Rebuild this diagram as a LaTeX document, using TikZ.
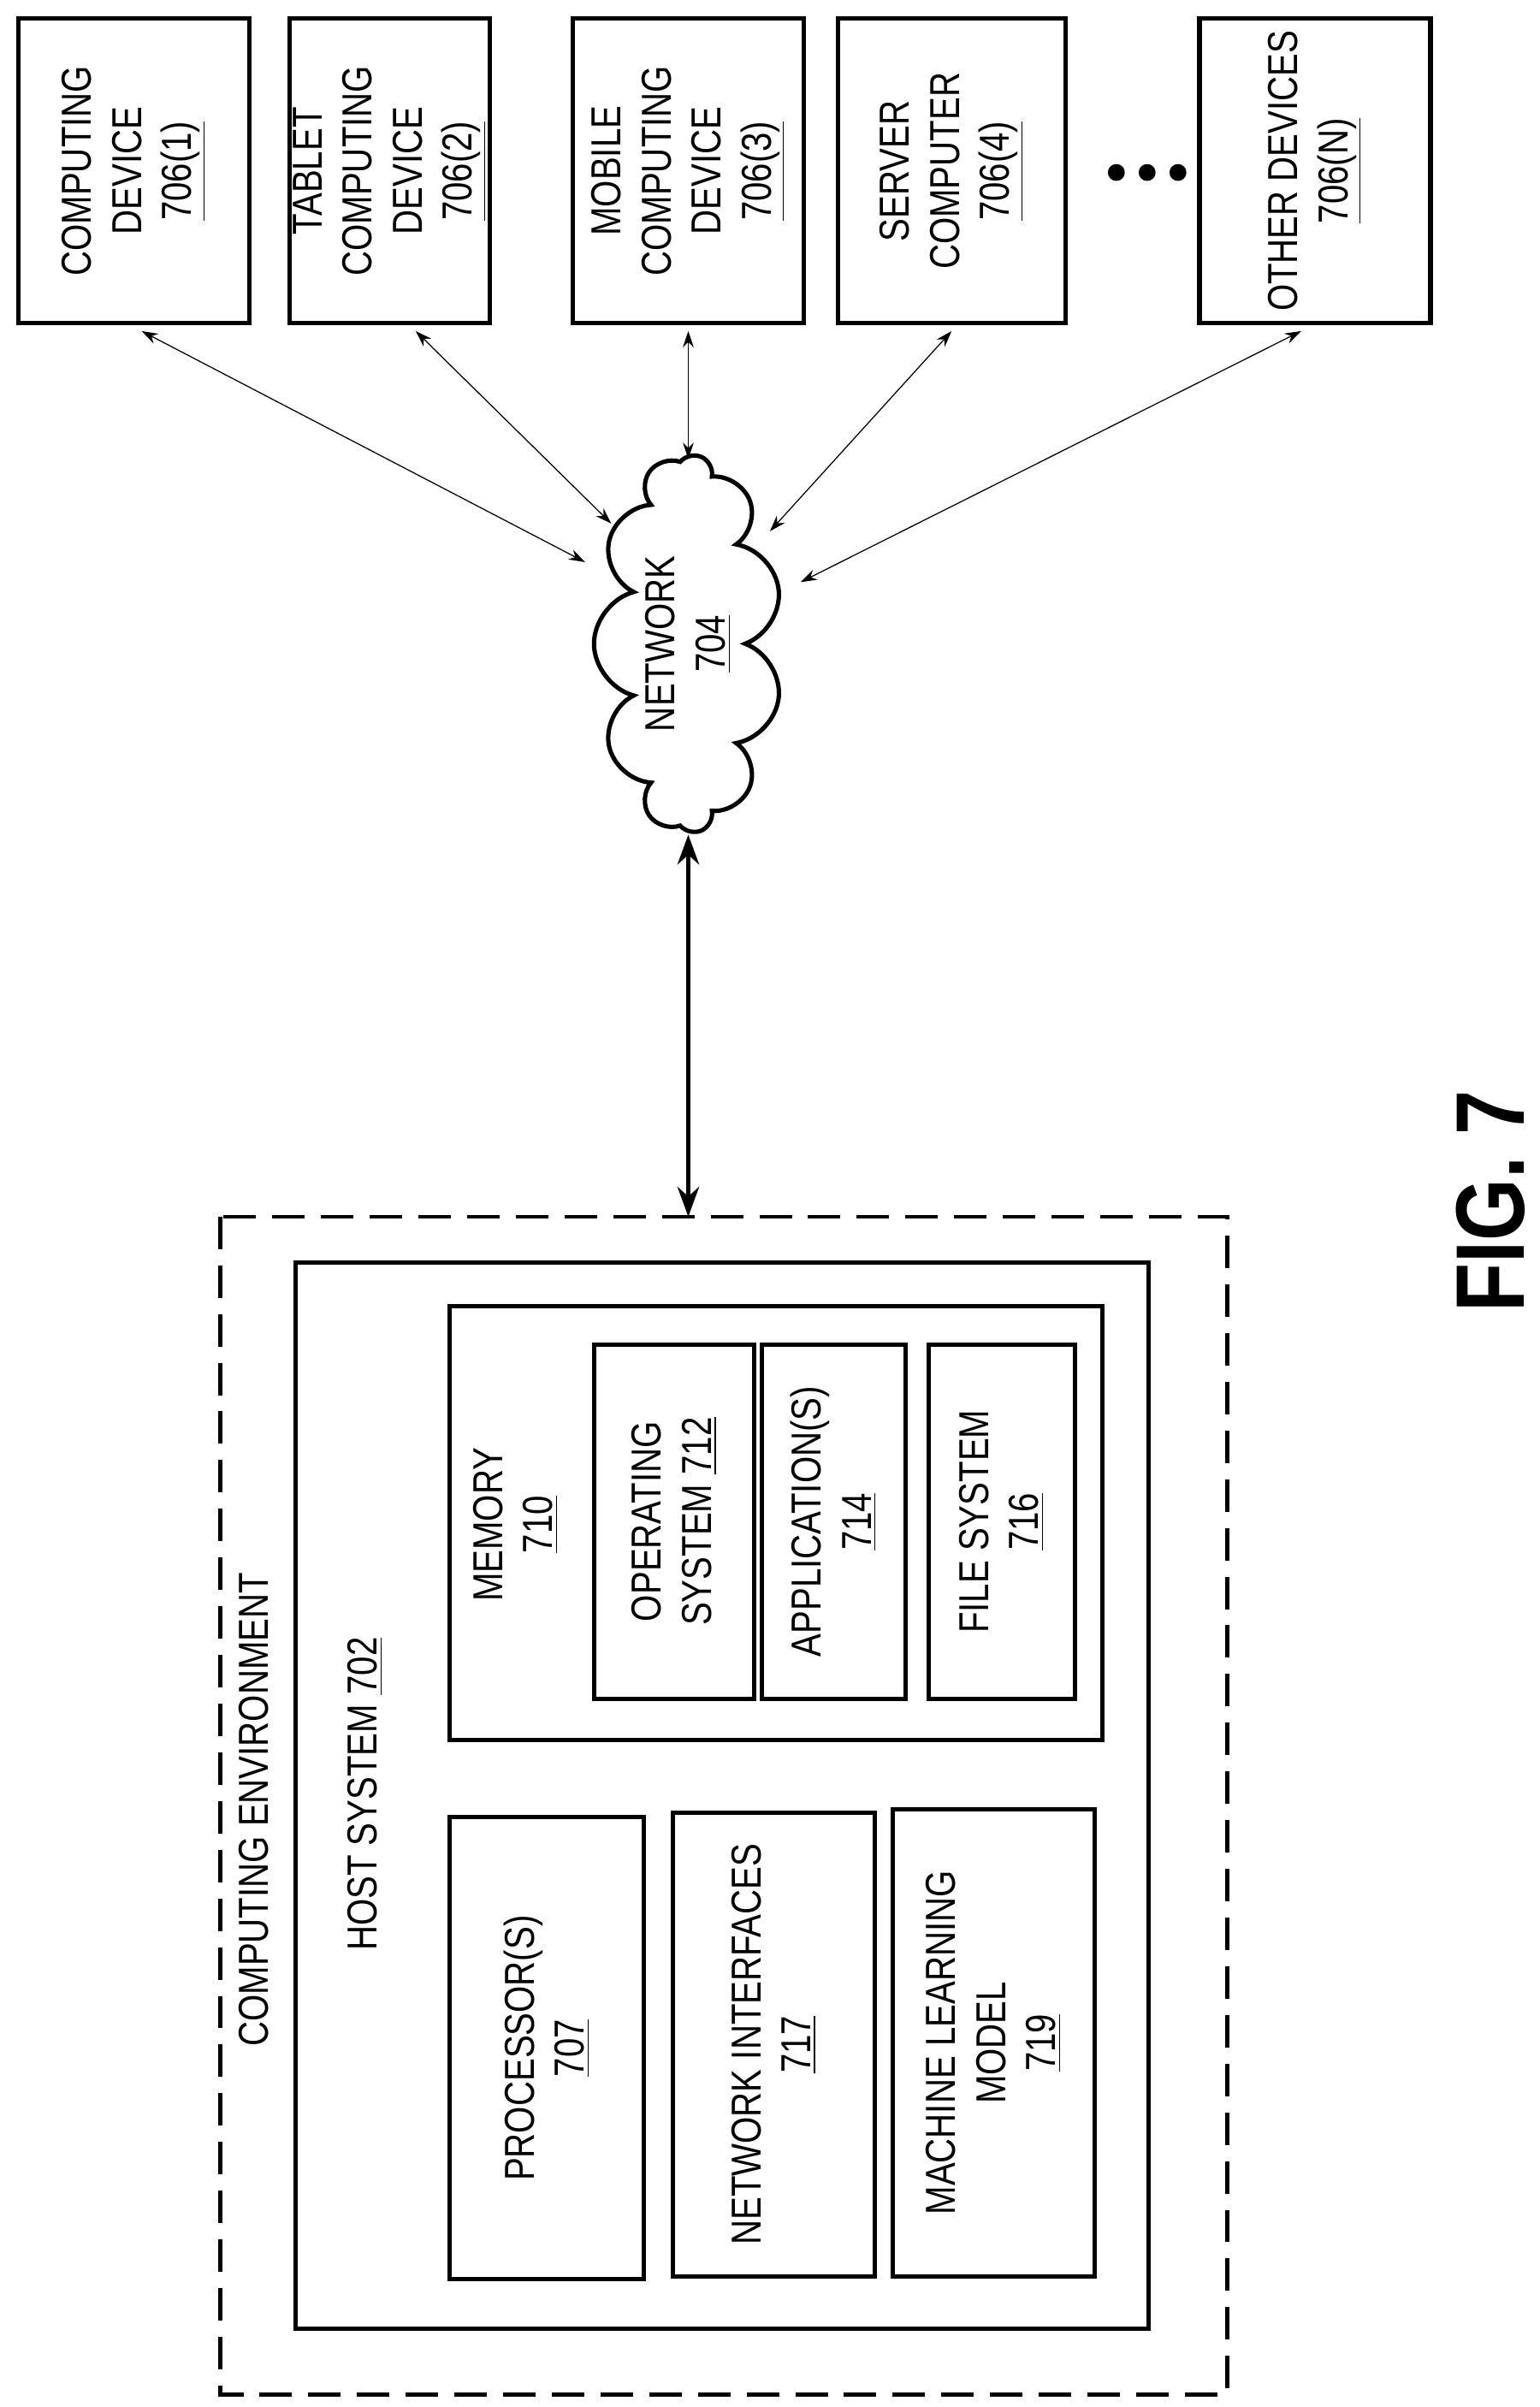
\documentclass[tikz,border=0pt]{standalone}
\usepackage{fontspec}
\setmainfont{Liberation Sans}[FakeStretch=0.82]
\usetikzlibrary{shapes.symbols,arrows.meta}
\begin{document}
\begin{tikzpicture}[x=0.02cm,y=-0.02cm,
 box/.style={draw,line width=1.6pt},
 lbl/.style={rotate=90,align=center,font=\fontsize{15.5}{18.5}\selectfont},
 thin/.style={line width=0.4pt,{Stealth[length=6pt,width=4pt]}-{Stealth[length=6pt,width=4pt]}},
 thick/.style={line width=1.6pt,{Stealth[length=11pt,width=8pt]}-{Stealth[length=11pt,width=8pt]}}]
\useasboundingbox (0,0) rectangle (1000,1563);
\def\bx#1#2#3#4#5#6{\draw[box] (#2,#3) rectangle (#4,#5); \node[lbl] (#1) at ({(#2+#4)/2},{(#3+#5)/2}) {#6};
 \coordinate (#1s) at ({(#2+#4)/2},#5);}
\bx{d1}{12}{12}{162}{210}{COMPUTING\\DEVICE\\\underline{706(1)}}
\bx{d2}{188}{12}{318}{210}{TABLET\\COMPUTING\\DEVICE\\\underline{706(2)}}
\bx{d3}{372}{12}{522}{210}{MOBILE\\COMPUTING\\DEVICE\\\underline{706(3)}}
\bx{d4}{544}{12}{692}{210}{SERVER\\COMPUTER\\\underline{706(4)}}
\bx{d5}{779}{12}{929}{210}{OTHER DEVICES\\\underline{706(N)}}
\foreach \x in {725,745,765} \fill (\x,112) circle (5.5);
\node[cloud,draw,line width=1.6pt,cloud puffs=11,aspect=2,minimum width=4.9cm,minimum height=2.45cm,rotate=90,inner sep=0] (net) at (447,418) {};
\node[lbl] at (447,418) {NETWORK\\\underline{704}};
\coordinate (c1) at (380,365); \coordinate (c2) at (397,340); \coordinate (c3) at (447,298);
\coordinate (c4) at (500,345); \coordinate (c5) at (520,378); \coordinate (c6) at (447,542);
\coordinate (e1) at (92,215); \coordinate (e2) at (270,215); \coordinate (e3) at (447,215);
\coordinate (e4) at (618,215); \coordinate (e5) at (845,215); \coordinate (e6) at (447,790);
\foreach \i in {1,...,5} \draw[thin] (e\i) -- (c\i);
\draw[thick] (c6) -- (e6);
\draw[line width=1.4pt,dash pattern=on 12pt off 6pt] (143,790) rectangle (797,1555);
\node[lbl] at (165,1175) {COMPUTING ENVIRONMENT};
\draw[box] (192,820) rectangle (746,1512);
\node[lbl] at (237,1165) {HOST SYSTEM \underline{702}};
\draw[box] (292,848) rectangle (716,1130);
\node[lbl] at (335,990) {MEMORY\\\underline{710}};
\bx{os}{386}{873}{490}{1103}{OPERATING\\SYSTEM \underline{712}}
\bx{ap}{495}{873}{588}{1103}{APPLICATION(S)\\\underline{714}}
\bx{fs}{603}{873}{698}{1103}{FILE SYSTEM\\\underline{716}}
\bx{pr}{292}{1180}{418}{1480}{PROCESSOR(S)\\\underline{707}}
\bx{ni}{437}{1177}{568}{1478}{NETWORK INTERFACES\\\underline{717}}
\bx{ml}{580}{1175}{711}{1478}{MACHINE LEARNING\\MODEL\\\underline{719}}
\node[rotate=90,font=\bfseries\fontsize{36}{40}\selectfont] at (968,780) {FIG. 7};
\end{tikzpicture}
\end{document}
